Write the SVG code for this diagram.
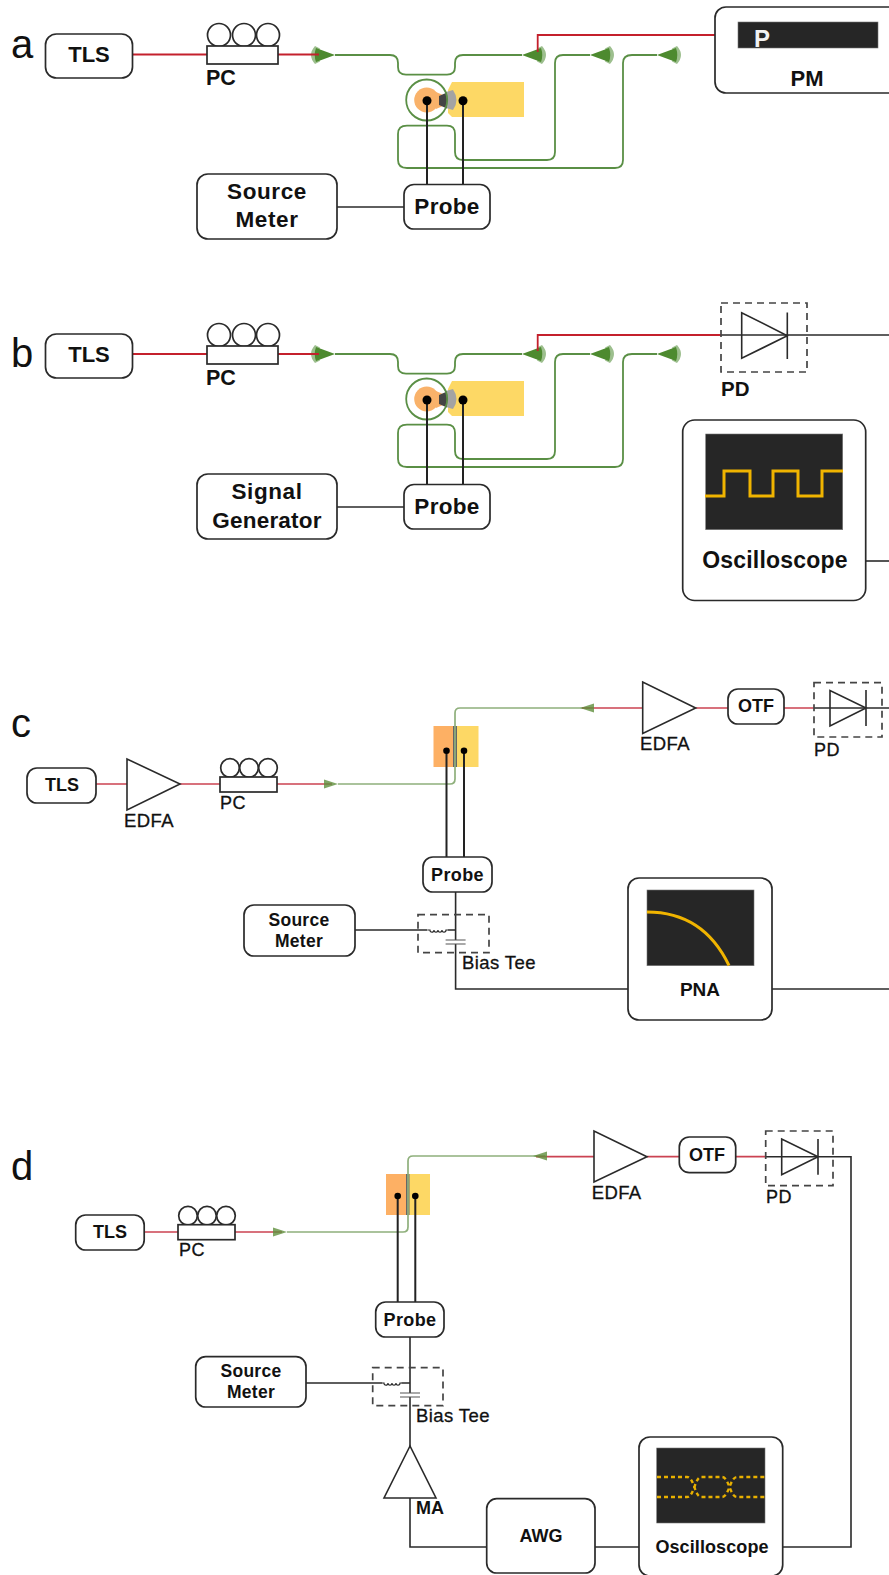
<svg xmlns="http://www.w3.org/2000/svg" xmlns:xlink="http://www.w3.org/1999/xlink" width="889" height="1575" viewBox="0 0 889 1575">
<style>
text{font-family:"Liberation Sans",Arial,sans-serif;fill:#111}
.b{font-weight:bold}
.m{text-anchor:middle}
.r{stroke:#111;stroke-width:.3;letter-spacing:.4px}
.box{fill:#fff;stroke:#2a2a2a;stroke-width:1.7}
.tri{fill:#fff;stroke:#2a2a2a;stroke-width:1.6}
.wire{fill:none;stroke:#2a2a2a;stroke-width:1.6}
.pin{fill:none;stroke:#222;stroke-width:2}
.red{fill:none;stroke:#c4202c;stroke-width:1.8}
.red2{fill:none;stroke:#cb4352;stroke-width:1.7}
.wg{fill:none;stroke:#5a8f45;stroke-width:1.8}
.wg2{fill:none;stroke:#8fb07c;stroke-width:1.7}
.dash{fill:none;stroke:#444;stroke-width:1.7;stroke-dasharray:7 5}
.screen{fill:#262626;stroke:#777;stroke-width:.6}
.trace{fill:none;stroke:#f0b400;stroke-width:3}
.eye{fill:none;stroke:#e8b000;stroke-width:2.400;stroke-dasharray:4 3}
.dot{fill:#000}
</style>
<defs>
<g id="gc">
<path d="M-20 -9Q-28 0 -20 9L-15 6.500Q-18 0 -15 -6.500Z" fill="#9dbf8e"/>
<path d="M0 0L-19 -7Q-21.500 0 -19 7Z" fill="#4d8a2f"/>
</g>
<g id="gcs"><path d="M0 0L-14 -4.500L-14 4.500Z" fill="#5f8f3c" opacity=".8"/></g>
<g id="pc">
<circle cx="12" cy="-11" r="11.500" class="box"/><circle cx="37" cy="-11" r="11.500" class="box"/><circle cx="61" cy="-11" r="11.500" class="box"/>
<rect x="0" y="0" width="71" height="18" class="box"/>
</g>
<g id="pcs">
<circle cx="10" cy="-9" r="9.300" class="box"/><circle cx="29" cy="-9" r="9.300" class="box"/><circle cx="48" cy="-9" r="9.300" class="box"/>
<rect x="0" y="0" width="57" height="15" class="box"/>
</g>
<path id="ind" d="M0 0h2a2 2.200 0 0 0 4 0a2 2.200 0 0 0 4 0a2 2.200 0 0 0 4 0a2 2.200 0 0 0 4 0h2" fill="none" stroke="#2a2a2a" stroke-width="1.200"/>
<g id="cap"><path d="M-10 0H10M-10 4H10" fill="none" stroke="#555" stroke-width="1.100"/></g>
<g id="chip">
<path d="M448 90L452 82H524V117H452L448 113Z" fill="#fdd865"/>
<circle cx="426.700" cy="100" r="12.500" fill="#f9b26a"/>
<path d="M436 92L443 95L440 100L443 106L436 109Z" fill="#f9b26a"/>
<path d="M446 92L453 90Q460 100 453 110L446 108Z" fill="#a3a3a3"/>
<path d="M439 96L447 92.500V108.500L439 105Z" fill="#444"/>
<circle cx="426.700" cy="100" r="20.500" class="wg"/>
<path class="wg" d="M335 55H390Q398 55 398 63V67Q398 74.700 406 74.700H447Q455 74.700 455 67V63Q455 55 463 55H522"/>
<path class="wg" d="M590 55H563Q555 55 555 63V152Q555 160 547 160H463Q455 160 455 152V134Q455 125.700 447 125.700H407Q398 125.700 398 134V160Q398 168 407 168H615Q623 168 623 160V63Q623 55 632 55H657"/>
<use xlink:href="#gc" href="#gc" transform="translate(335,55)"/>
<use xlink:href="#gc" href="#gc" transform="translate(522,55) scale(-1,1)"/>
<use xlink:href="#gc" href="#gc" transform="translate(590,55) scale(-1,1)"/>
<use xlink:href="#gc" href="#gc" transform="translate(657,55) scale(-1,1)"/>
</g>
</defs>

<g id="panel-labels" font-size="40">
<text x="11" y="58">a</text>
<text x="11" y="367">b</text>
<text x="11" y="737">c</text>
<text x="11" y="1180">d</text>
</g>

<g id="chips">
<use id="chip-a" xlink:href="#chip" href="#chip"/>
<use id="chip-b" xlink:href="#chip" href="#chip" y="299"/>
<g id="chip-c">
<rect x="433.500" y="726" width="21" height="41" fill="#fdb064"/>
<rect x="454.500" y="726" width="24" height="41" fill="#fdd865"/>
<rect x="453" y="726" width="4" height="41" fill="#666"/>
<path class="wg2" d="M338 784H450Q455 784 455 779V713Q455 708 460 708H590"/>
</g>
<g id="chip-d">
<rect x="386" y="1174" width="21" height="41" fill="#fdb064"/>
<rect x="407" y="1174" width="23" height="41" fill="#fdd865"/>
<rect x="406" y="1174" width="3.500" height="41" fill="#666"/>
<path class="wg2" d="M287 1232H403Q408 1232 408 1227V1161Q408 1156 413 1156H545"/>
</g>
</g>

<g id="connectors">
<path class="red" d="M132 54.500H207M278 54.500H319"/>
<path class="red" d="M537.700 52V35H715"/>
<path class="pin" d="M427 101V184M463 101V184"/>
<path class="wire" d="M337 207H404"/>
<path class="red" d="M132 354H207M278 354H319"/>
<path class="red" d="M537.700 351V335H721"/>
<path class="pin" d="M427 400V484M463 400V484"/>
<path class="wire" d="M337 507H404"/>
<path class="wire" d="M721 335H889"/>
<path class="wire" d="M866 561H889"/>

<path class="red2" d="M96 784H127M180 784H220M277 784H332"/>
<path class="red2" d="M582 708H643M695.700 708H728M784 708H814"/>
<path class="wire" d="M814 708H889"/>
<path class="pin" d="M446.500 751V857M464 751V857"/>
<path class="wire" d="M455.600 892V940M455.600 944V989H628"/>
<path class="wire" d="M772 989H889"/>
<path class="wire" d="M355 930H427.500M448 930H455.600"/>

<path class="red2" d="M144 1232H178M235 1232H282"/>
<path class="red2" d="M536 1156.700H594M647 1156.700H679M735.700 1156.700H766"/>
<path class="pin" d="M397.700 1196V1302M415.300 1196V1302"/>
<path class="wire" d="M410 1337V1393M410 1397V1446M410 1498V1547H487"/>
<path class="wire" d="M595 1547H639"/>
<path class="wire" d="M782.700 1547H851V1156.700H766"/>
<path class="wire" d="M306 1383H382M401.700 1383H410"/>
</g>

<g id="a-tls"><rect class="box" x="45.500" y="34" width="87" height="44" rx="11"/><text class="b m" x="89" y="62" font-size="22">TLS</text></g>
<g id="a-pc"><use xlink:href="#pc" href="#pc" x="207" y="46"/><text class="b" x="206" y="85" font-size="21.500">PC</text></g>
<g id="a-pm"><rect class="box" x="715" y="7" width="200" height="86" rx="11"/><rect class="screen" x="738" y="22" width="140" height="26"/><text class="b" x="754" y="47" font-size="24" style="fill:#f2f2f2">P</text><text class="b m" x="807" y="86" font-size="22">PM</text></g>
<g id="a-pads"><circle class="dot" cx="427" cy="100.700" r="4.500"/><circle class="dot" cx="463" cy="100.700" r="4.500"/></g>
<g id="a-probe"><rect class="box" x="404" y="184.500" width="86" height="44.500" rx="10"/><text class="b m" x="447" y="214" font-size="22.500" letter-spacing=".3">Probe</text></g>
<g id="a-source"><rect class="box" x="197" y="174" width="140" height="65" rx="11"/><text class="b m" x="267" y="199" font-size="22.500" letter-spacing=".6">Source</text><text class="b m" x="267" y="227" font-size="22.500" letter-spacing=".6">Meter</text></g>

<g id="b-tls"><rect class="box" x="45.500" y="334" width="87" height="44" rx="11"/><text class="b m" x="89" y="362" font-size="22">TLS</text></g>
<g id="b-pc"><use xlink:href="#pc" href="#pc" x="207" y="346"/><text class="b" x="206" y="385" font-size="21.500">PC</text></g>
<g id="b-pads"><circle class="dot" cx="427" cy="400" r="4.500"/><circle class="dot" cx="463" cy="400" r="4.500"/></g>
<g id="b-probe"><rect class="box" x="404" y="484.500" width="86" height="44.500" rx="10"/><text class="b m" x="447" y="514" font-size="22.500" letter-spacing=".3">Probe</text></g>
<g id="b-siggen"><rect class="box" x="197" y="474" width="140" height="65" rx="11"/><text class="b m" x="267" y="499" font-size="22.500" letter-spacing=".6">Signal</text><text class="b m" x="267" y="528" font-size="22.500" letter-spacing=".2">Generator</text></g>
<g id="b-pd"><rect class="dash" x="721" y="303" width="86" height="69"/><path class="tri" style="fill:none" d="M741.700 312.700V358.300L787.300 335.700ZM787.300 312.500V359"/><text class="b" x="721" y="396" font-size="20.500">PD</text></g>
<g id="b-scope"><rect class="box" x="682.700" y="420" width="183" height="180.500" rx="12"/><rect class="screen" x="705.700" y="434" width="137" height="95.700"/><path class="trace" d="M705 496H724V471H750V496H773V471H798V496H822V471H843"/><text class="b m" x="775" y="568" font-size="23" letter-spacing=".2">Oscilloscope</text></g>

<g id="c-tls"><rect class="box" x="27" y="768" width="69" height="35" rx="10"/><text class="b m" x="62" y="791" font-size="18">TLS</text></g>
<g id="c-edfa1"><path class="tri" d="M127 759V810L180 784Z"/><text class="r" x="124" y="827" font-size="18.500">EDFA</text></g>
<g id="c-pc"><use xlink:href="#pcs" href="#pcs" x="220" y="777"/><text class="r" x="220" y="809" font-size="18">PC</text></g>
<g id="c-edfa2"><path class="tri" d="M642.700 682V733.500L695.700 708Z"/><text class="r" x="640" y="750" font-size="18.500">EDFA</text></g>
<g id="c-otf"><rect class="box" x="728" y="689" width="56" height="35" rx="10"/><text class="b m" x="756" y="712" font-size="18">OTF</text></g>
<g id="c-pd"><rect class="dash" x="814" y="682.700" width="68" height="54.300"/><path class="tri" style="fill:none" d="M830 690.500V726L866 708ZM866 690V726"/><text class="r" x="814" y="756" font-size="18">PD</text></g>
<g id="c-pads"><circle class="dot" cx="446.500" cy="750.700" r="3.300"/><circle class="dot" cx="464" cy="750.700" r="3.300"/></g>
<g id="c-probe"><rect class="box" x="423" y="857" width="69" height="35" rx="10"/><text class="b m" x="457.500" y="881" font-size="18" letter-spacing=".4">Probe</text></g>
<g id="c-source"><rect class="box" x="244" y="905" width="111" height="51" rx="10"/><text class="b m" x="299" y="926" font-size="17.500" letter-spacing=".3">Source</text><text class="b m" x="299" y="947" font-size="17.500" letter-spacing=".3">Meter</text></g>
<g id="c-biastee"><rect class="dash" x="418" y="914.700" width="71" height="38"/><use xlink:href="#ind" href="#ind" x="428" y="930"/><use xlink:href="#cap" href="#cap" x="455.600" y="940"/><text class="r" x="462" y="969" font-size="18.500">Bias Tee</text></g>
<g id="c-pna"><rect class="box" x="628" y="878" width="144" height="142" rx="11"/><rect class="screen" x="647" y="890" width="107" height="75.700"/><path class="trace" d="M647 912C685 912 712 930 729 965.500"/><text class="b m" x="700" y="996" font-size="19">PNA</text></g>

<g id="d-tls"><rect class="box" x="75.700" y="1215" width="68.500" height="35" rx="10"/><text class="b m" x="110" y="1238" font-size="18">TLS</text></g>
<g id="d-pc"><use xlink:href="#pcs" href="#pcs" x="178" y="1224.700"/><text class="r" x="179" y="1256" font-size="18">PC</text></g>
<g id="d-edfa"><path class="tri" d="M594 1131V1182L647 1156.700Z"/><text class="r" x="591.700" y="1199" font-size="18.500">EDFA</text></g>
<g id="d-otf"><rect class="box" x="679.300" y="1137" width="56.400" height="35.700" rx="10"/><text class="b m" x="707" y="1161" font-size="18">OTF</text></g>
<g id="d-pd"><rect class="dash" x="765.700" y="1131" width="67.300" height="54.700"/><path class="tri" style="fill:none" d="M781.700 1139V1174.700L818 1156.700ZM818 1139V1174.700"/><text class="r" x="766" y="1203" font-size="18">PD</text></g>
<g id="d-pads"><circle class="dot" cx="397.700" cy="1196" r="3.300"/><circle class="dot" cx="415.300" cy="1196" r="3.300"/></g>
<g id="d-probe"><rect class="box" x="375.700" y="1302" width="68.300" height="35" rx="10"/><text class="b m" x="410" y="1326" font-size="18" letter-spacing=".4">Probe</text></g>
<g id="d-source"><rect class="box" x="195.700" y="1356.700" width="110.300" height="50.300" rx="10"/><text class="b m" x="251" y="1377" font-size="17.500" letter-spacing=".3">Source</text><text class="b m" x="251" y="1398" font-size="17.500" letter-spacing=".3">Meter</text></g>
<g id="d-biastee"><rect class="dash" x="372.700" y="1367.700" width="70.300" height="38"/><use xlink:href="#ind" href="#ind" x="382" y="1383"/><use xlink:href="#cap" href="#cap" x="410" y="1393"/><text class="r" x="416" y="1421.700" font-size="18.500">Bias Tee</text></g>
<g id="d-ma"><path class="tri" d="M410 1446L384 1498H436Z"/><text class="b" x="416" y="1514" font-size="18">MA</text></g>
<g id="d-awg"><rect class="box" x="486.700" y="1498.700" width="108.300" height="74.300" rx="10"/><text class="b m" x="541" y="1541.700" font-size="18">AWG</text></g>
<g id="d-scope"><rect class="box" x="639" y="1437" width="143.700" height="139" rx="11"/><rect class="screen" x="656.700" y="1448" width="108.300" height="75"/><path class="eye" d="M657 1477H687C694 1477 695 1497 701 1497H722C729 1497 730 1477 737 1477H765"/><path class="eye" d="M657 1497H687C694 1497 695 1477 701 1477H722C729 1477 730 1497 737 1497H765"/><text class="b m" x="712" y="1553" font-size="18" letter-spacing=".1">Oscilloscope</text></g>

<g id="small-gratings">
<use xlink:href="#gcs" href="#gcs" x="338" y="784"/>
<use xlink:href="#gcs" href="#gcs" transform="translate(580,708) scale(-1,1)"/>
<use xlink:href="#gcs" href="#gcs" x="287" y="1232"/>
<use xlink:href="#gcs" href="#gcs" transform="translate(533,1156) scale(-1,1)"/>
</g>
</svg>
